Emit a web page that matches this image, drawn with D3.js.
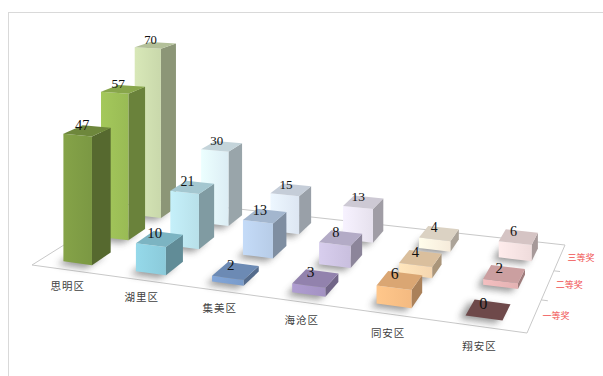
<!DOCTYPE html>
<html><head><meta charset="utf-8">
<script src="https://cdn.jsdelivr.net/npm/d3@7"></script>
<style>html,body{margin:0;padding:0;background:#fff;} svg{display:block;}</style>
</head><body>
<svg id="chart" width="603" height="376"></svg>
<script>
// ---- data ----
const categories = ['思明区', '湖里区', '集美区', '海沧区', '同安区', '翔安区'];
const seriesNames = ['一等奖', '二等奖', '三等奖'];
const firstPrize  = [47, 10, 2, 3, 6, 0];
const secondPrize = [57, 21, 13, 8, 4, 2];
const thirdPrize  = [70, 30, 15, 13, 4, 6];
const firstColors  = ['#7f9c45', '#8fd0e0', '#7d9fd0', '#a896c8', '#fbbf85', '#7a5152'];
const secondColors = ['#9dc057', '#bde6f0', '#bcd2ee', '#cfc5e4', '#fcdcb5', '#eab7b8'];
const thirdColors  = ['#cfdeb0', '#e2f4fb', '#e3edf9', '#ede8f4', '#fdf2e1', '#f6e2e2'];
const seriesValues = [firstPrize, secondPrize, thirdPrize];
const seriesColors = [firstColors, secondColors, thirdColors];

// ---- layout ----
const svg = d3.select('#chart');
const floorFL = [32, 265], floorFR = [527, 333], floorBR = [565, 245], floorBL = [139, 198];
const horizonY = -136;

function makeHom(p0, p1, p2, p3) {
  const [x0, y0] = p0, [x1, y1] = p1, [x2, y2] = p2, [x3, y3] = p3;
  const dx1 = x1 - x2, dx2 = x3 - x2, dx3 = x0 - x1 + x2 - x3;
  const dy1 = y1 - y2, dy2 = y3 - y2, dy3 = y0 - y1 + y2 - y3;
  const den = dx1 * dy2 - dx2 * dy1;
  const g = (dx3 * dy2 - dx2 * dy3) / den;
  const h = (dx1 * dy3 - dx3 * dy1) / den;
  const a = x1 - x0 + g * x1, b = x3 - x0 + h * x3, c = x0;
  const d = y1 - y0 + g * y1, e = y3 - y0 + h * y3, f = y0;
  return (u, v) => {
    const w = g * u + h * v + 1;
    return [(a * u + b * v + c) / w, (d * u + e * v + f) / w];
  };
}
const hom = makeHom(floorFL, floorFR, floorBR, floorBL);

const uScale = d3.scaleBand().domain(categories).range([0, 1]).paddingInner(0.6).paddingOuter(0.3);
const vScale = d3.scaleBand().domain(seriesNames).range([0, 1]).paddingInner(0.5).paddingOuter(0.25);
const hScale = d3.scaleLinear().domain([0, 80]).range([0, 0.5464]);

function proj(u, v, val) {
  const [x, y] = hom(u, v);
  return [x, y - hScale(val) * (y - horizonY)];
}
const line = d3.line();

// chart frame
svg.append('rect').attr('x', 8.5).attr('y', 12.5).attr('width', 640).attr('height', 420)
  .attr('fill', 'none').attr('stroke', '#d9d9d9');

// defs
const defs = svg.append('defs');
defs.append('filter').attr('id', 'blur').attr('x', '-50%').attr('y', '-50%').attr('width', '200%').attr('height', '200%')
  .append('feGaussianBlur').attr('stdDeviation', 3.5);

// floor outline
const floorPts = [[0, 0], [1, 0], [1, 1], [0, 1]].map(p => proj(p[0], p[1], 0));
svg.append('path').attr('d', line(floorPts) + 'Z').attr('fill', 'none').attr('stroke', '#c8c8c8').attr('stroke-width', 1);

// right-side depth ticks
[1 / 3, 2 / 3].forEach(t => {
  const a = proj(1, t, 0), b = proj(1.012, t, 0);
  svg.append('line').attr('x1', a[0]).attr('y1', a[1]).attr('x2', b[0]).attr('y2', b[1]).attr('stroke', '#c8c8c8');
});

// bars
const bars = [];
seriesNames.forEach((s, j) => {
  categories.forEach((cat, i) => {
    const u0 = uScale(cat), u1 = u0 + uScale.bandwidth();
    const v0 = vScale(s), v1 = v0 + vScale.bandwidth();
    const val = seriesValues[j][i];
    const base = hom((u0 + u1) / 2, (v0 + v1) / 2);
    bars.push({ id: i * 3 + j, cat, s, u0, u1, v0, v1, val, color: seriesColors[j][i], depth: base[1] });
  });
});
bars.sort((a, b) => a.depth - b.depth);

// gradients for front faces
bars.forEach(b => {
  const c = d3.color(b.color);
  const gr = defs.append('linearGradient').attr('id', 'gf' + b.id).attr('x1', 0).attr('y1', 0).attr('x2', 1).attr('y2', 0);
  gr.append('stop').attr('offset', '0%').attr('stop-color', c.brighter(0.12).formatHex());
  gr.append('stop').attr('offset', '100%').attr('stop-color', c.darker(0.08).formatHex());
});

// shadows
const shadowG = svg.append('g').attr('filter', 'url(#blur)').attr('opacity', 0.55);
bars.forEach(b => {
  const pts = [[b.u0, b.v0], [b.u1, b.v0], [b.u1, b.v1], [b.u0, b.v1]].map(p => {
    const q = proj(p[0], p[1], 0); return [q[0] - 6, q[1] + 3];
  });
  shadowG.append('path').attr('d', line(pts) + 'Z').attr('fill', '#444');
});

const barG = svg.append('g');
bars.forEach(b => {
  const c = d3.color(b.color);
  const g = barG.append('g');
  const P = (u, v, h) => proj(u, v, h);
  if (b.val > 0) {
    g.append('path').attr('d', line([P(b.u1, b.v0, 0), P(b.u1, b.v1, 0), P(b.u1, b.v1, b.val), P(b.u1, b.v0, b.val)]) + 'Z')
      .attr('fill', c.darker(1.1).formatHex());
    g.append('path').attr('d', line([P(b.u0, b.v0, 0), P(b.u1, b.v0, 0), P(b.u1, b.v0, b.val), P(b.u0, b.v0, b.val)]) + 'Z')
      .attr('fill', 'url(#gf' + b.id + ')');
  }
  g.append('path').attr('d', line([P(b.u0, b.v0, b.val), P(b.u1, b.v0, b.val), P(b.u1, b.v1, b.val), P(b.u0, b.v1, b.val)]) + 'Z')
    .attr('fill', b.val > 0 ? c.darker(0.4).formatHex() : c.darker(0.3).formatHex());
});

// value labels
bars.forEach(b => {
  const [x, y] = proj((b.u0 + b.u1) / 2, (b.v0 + b.v1) / 2, b.val);
  const yf = hom((b.u0 + b.u1) / 2, (b.v0 + b.v1) / 2)[1];
  const fs = 14.5 * (yf - horizonY) / 398;
  svg.append('text').attr('x', x - 5).attr('y', y - 1)
    .attr('text-anchor', 'middle')
    .attr('font-family', 'Liberation Serif, Times New Roman, serif')
    .attr('font-size', fs.toFixed(1) + 'px')
    .attr('fill', '#111')
    .text(b.val);
});

// category labels
categories.forEach(cat => {
  const uc = uScale(cat) + uScale.bandwidth() / 2;
  const [x, y] = proj(uc, 0, 0);
  svg.append('text').attr('x', x).attr('y', y + 20 + 4 * uc)
    .attr('text-anchor', 'middle')
    .attr('font-family', 'Noto Sans CJK SC, sans-serif')
    .attr('font-size', '10.5px').attr('letter-spacing', '1px')
    .attr('fill', '#404040')
    .text(cat);
});

// series labels (depth axis)
seriesNames.forEach(s => {
  const [x, y] = proj(1, vScale(s) + vScale.bandwidth() / 2, 0);
  svg.append('text').attr('x', x + 8).attr('y', y + 3)
    .attr('font-family', 'Noto Sans CJK SC, sans-serif')
    .attr('font-size', '9px')
    .attr('fill', '#f05050')
    .text(s);
});
</script>
</body></html>
